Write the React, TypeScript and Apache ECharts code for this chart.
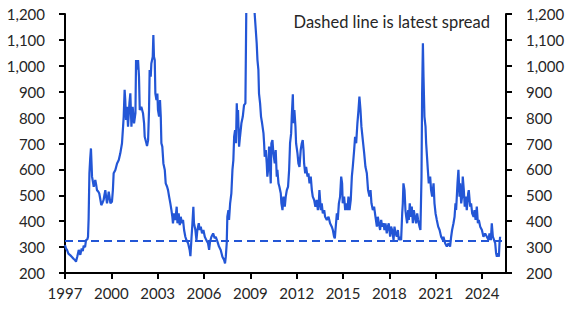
import React, { useEffect, useRef } from "react";
import * as echarts from "echarts";

// US high-yield spread (bp): [decimal year, spread]
const spreadSeries: [number, number][] = [
  [1997.00, 308], [1997.06, 295], [1997.13, 289], [1997.22, 275], [1997.35, 268], [1997.45, 262], [1997.55, 255], [1997.65, 250], [1997.71, 244], [1997.80, 265], [1997.89, 289], [1997.99, 270],
  [1998.08, 295], [1998.15, 285], [1998.21, 305], [1998.30, 300], [1998.36, 327], [1998.45, 330], [1998.49, 340], [1998.53, 411], [1998.58, 585], [1998.63, 640], [1998.68, 681], [1998.72, 620], [1998.75, 572], [1998.80, 555], [1998.86, 533], [1998.96, 559],
  [1999.02, 540], [1999.07, 520], [1999.15, 515], [1999.22, 507], [1999.30, 480], [1999.35, 462], [1999.42, 470], [1999.50, 482], [1999.55, 500], [1999.61, 520], [1999.66, 495], [1999.72, 469], [1999.78, 490], [1999.83, 514], [1999.88, 495], [1999.94, 469],
  [2000.04, 475], [2000.10, 520], [2000.15, 585], [2000.26, 598], [2000.37, 623], [2000.48, 636], [2000.58, 662], [2000.69, 701], [2000.76, 765], [2000.80, 804], [2000.86, 907], [2000.90, 870], [2000.95, 791],
  [2001.01, 842], [2001.08, 765], [2001.17, 855], [2001.23, 894], [2001.30, 765], [2001.38, 842], [2001.47, 778], [2001.56, 817], [2001.60, 1022], [2001.66, 985], [2001.69, 1009], [2001.73, 1022], [2001.79, 958], [2001.84, 829], [2001.94, 842],
  [2002.05, 817], [2002.12, 778], [2002.16, 726], [2002.27, 701], [2002.31, 690], [2002.38, 713], [2002.44, 829], [2002.48, 984], [2002.55, 958], [2002.59, 1009], [2002.68, 1035], [2002.72, 1119], [2002.76, 1035], [2002.81, 1022], [2002.85, 893], [2002.92, 868], [2002.98, 893],
  [2003.02, 829], [2003.09, 804], [2003.15, 868], [2003.20, 804], [2003.24, 701], [2003.30, 688], [2003.37, 623], [2003.46, 598], [2003.52, 546], [2003.61, 533], [2003.67, 520], [2003.74, 495], [2003.82, 469], [2003.89, 443], [2003.95, 417], [2003.99, 392],
  [2004.06, 430], [2004.15, 405], [2004.23, 456], [2004.28, 392], [2004.36, 430], [2004.43, 385], [2004.49, 417], [2004.58, 392], [2004.64, 405], [2004.71, 366], [2004.79, 340], [2004.86, 327], [2004.97, 315],
  [2005.07, 289], [2005.12, 265], [2005.18, 327], [2005.25, 392], [2005.31, 456], [2005.35, 392], [2005.44, 366], [2005.51, 327], [2005.57, 366], [2005.66, 392], [2005.72, 366], [2005.79, 379], [2005.87, 353], [2005.96, 366],
  [2006.05, 340], [2006.15, 327], [2006.26, 315], [2006.33, 289], [2006.39, 321], [2006.48, 340], [2006.59, 353], [2006.69, 334], [2006.76, 340], [2006.87, 321], [2006.97, 302],
  [2007.08, 289], [2007.19, 263], [2007.30, 250], [2007.36, 237], [2007.41, 263], [2007.47, 315], [2007.51, 417], [2007.58, 443], [2007.62, 405], [2007.69, 469], [2007.77, 507], [2007.84, 598], [2007.90, 636], [2007.95, 726],
  [2008.01, 752], [2008.07, 701], [2008.12, 855], [2008.16, 791], [2008.20, 829], [2008.27, 688], [2008.33, 726], [2008.42, 778], [2008.51, 804], [2008.59, 848], [2008.68, 855], [2008.75, 1300], [2008.82, 1700], [2008.92, 1950],
  [2009.00, 1800], [2009.10, 1650], [2009.20, 1400], [2009.28, 1200], [2009.35, 1139], [2009.41, 1087], [2009.46, 1022], [2009.52, 984], [2009.56, 893], [2009.63, 855], [2009.69, 804], [2009.76, 778], [2009.85, 739], [2009.89, 701], [2009.93, 649],
  [2010.00, 675], [2010.06, 623], [2010.10, 572], [2010.17, 611], [2010.21, 688], [2010.28, 598], [2010.32, 546], [2010.36, 701], [2010.43, 713], [2010.49, 662], [2010.58, 623], [2010.64, 675], [2010.71, 572], [2010.75, 598], [2010.82, 546], [2010.88, 533], [2010.97, 507],
  [2011.01, 469], [2011.08, 443], [2011.14, 495], [2011.23, 456], [2011.29, 495], [2011.36, 520], [2011.44, 533], [2011.51, 598], [2011.57, 701], [2011.64, 739], [2011.68, 804], [2011.75, 890], [2011.79, 778], [2011.85, 829], [2011.92, 765], [2011.96, 701],
  [2012.05, 662], [2012.11, 623], [2012.18, 610], [2012.26, 675], [2012.33, 701], [2012.39, 713], [2012.44, 675], [2012.48, 623], [2012.55, 585], [2012.61, 610], [2012.70, 572], [2012.76, 585], [2012.83, 546], [2012.91, 572], [2012.98, 520],
  [2013.04, 495], [2013.13, 482], [2013.21, 456], [2013.30, 482], [2013.37, 443], [2013.43, 469], [2013.47, 520], [2013.56, 443], [2013.62, 469], [2013.69, 430], [2013.78, 443], [2013.84, 417], [2013.95, 405],
  [2014.06, 417], [2014.16, 392], [2014.27, 379], [2014.34, 366], [2014.42, 340], [2014.47, 334], [2014.51, 366], [2014.60, 430], [2014.66, 405], [2014.73, 469], [2014.81, 495], [2014.88, 572], [2014.94, 546], [2014.98, 469],
  [2015.07, 495], [2015.14, 443], [2015.20, 469], [2015.29, 443], [2015.35, 495], [2015.42, 443], [2015.50, 482], [2015.57, 572], [2015.63, 610], [2015.72, 675], [2015.78, 726], [2015.85, 701], [2015.93, 778],
  [2016.00, 829], [2016.06, 881], [2016.13, 829], [2016.19, 765], [2016.28, 713], [2016.37, 662], [2016.45, 610], [2016.54, 585], [2016.62, 520], [2016.71, 495], [2016.78, 520], [2016.84, 469], [2016.93, 443],
  [2017.01, 456], [2017.10, 417], [2017.19, 379], [2017.25, 417], [2017.32, 392], [2017.40, 366], [2017.47, 405], [2017.53, 379], [2017.62, 392], [2017.68, 366], [2017.75, 392], [2017.83, 353], [2017.90, 379], [2017.96, 392],
  [2018.05, 340], [2018.11, 379], [2018.18, 366], [2018.27, 327], [2018.33, 379], [2018.40, 353], [2018.48, 340], [2018.55, 366], [2018.61, 327], [2018.70, 340], [2018.76, 327], [2018.83, 430], [2018.87, 469], [2018.91, 546], [2018.98, 520],
  [2019.04, 443], [2019.09, 417], [2019.15, 392], [2019.22, 443], [2019.26, 405], [2019.32, 469], [2019.39, 417], [2019.45, 456], [2019.52, 392], [2019.58, 443], [2019.65, 417], [2019.73, 392], [2019.80, 430], [2019.86, 405], [2019.95, 379],
  [2020.01, 366], [2020.08, 572], [2020.12, 894], [2020.17, 1087], [2020.21, 958], [2020.27, 804], [2020.34, 765], [2020.38, 701], [2020.45, 636], [2020.49, 598], [2020.55, 546], [2020.64, 572], [2020.70, 520], [2020.77, 495], [2020.86, 546], [2020.92, 469], [2020.99, 430],
  [2021.07, 405], [2021.16, 379], [2021.25, 366], [2021.35, 340], [2021.46, 327], [2021.50, 340], [2021.61, 315], [2021.72, 302], [2021.83, 315], [2021.93, 302],
  [2022.00, 340], [2022.06, 366], [2022.15, 392], [2022.22, 417], [2022.28, 469], [2022.32, 443], [2022.41, 546], [2022.47, 598], [2022.54, 495], [2022.58, 546], [2022.65, 469], [2022.71, 495], [2022.75, 572], [2022.82, 520], [2022.88, 456], [2022.95, 495],
  [2023.01, 443], [2023.10, 507], [2023.14, 520], [2023.23, 456], [2023.29, 469], [2023.36, 430], [2023.45, 417], [2023.51, 443], [2023.58, 405], [2023.66, 456], [2023.73, 392], [2023.79, 405], [2023.88, 379], [2023.99, 366],
  [2024.09, 340], [2024.20, 353], [2024.31, 340], [2024.42, 327], [2024.48, 353], [2024.57, 327], [2024.63, 392], [2024.70, 340], [2024.78, 327], [2024.85, 315], [2024.91, 276], [2024.96, 263],
  [2025.02, 276], [2025.09, 263], [2025.13, 315], [2025.17, 340],
];

const latestSpread = 325;
const xTickYears = [1997, 2000, 2003, 2006, 2009, 2012, 2015, 2018, 2021, 2024];
const noteText = "Dashed line is latest spread";

const LINE_COLOR = "#2356d6";
const FONT = "Lato";
const TEXT_COLOR = "#262626";

export default function App() {
  const ref = useRef<HTMLDivElement>(null);
  useEffect(() => {
    document.body.style.margin = "0";
    const chart = echarts.init(ref.current!, null, { renderer: "svg" });
    const yLabel = {
      fontSize: 15,
      fontFamily: FONT,
      color: TEXT_COLOR,
      margin: 20,
      formatter: (v: number) => v.toLocaleString("en-US"),
    };
    const yAxisBase = {
      type: "value" as const,
      min: 200,
      max: 1200,
      interval: 100,
      splitLine: { show: false },
      axisLine: { show: true, lineStyle: { color: "#000", width: 2 } },
      axisTick: { show: true, length: 6, lineStyle: { color: "#000", width: 2 } },
      axisLabel: yLabel,
    };
    chart.setOption({
      animation: false,
      grid: { left: 65, right: 66, top: 14, bottom: 44, containLabel: false },
      xAxis: {
        type: "value",
        min: 1997,
        max: 2025.55,
        splitLine: { show: false },
        axisLine: { onZero: false, lineStyle: { color: "#000", width: 2 } },
        axisTick: { show: true, length: 6, customValues: xTickYears, lineStyle: { color: "#000", width: 2 } },
        axisLabel: {
          customValues: xTickYears,
          fontSize: 15,
          fontFamily: FONT,
          color: TEXT_COLOR,
          margin: 12,
          formatter: (v: number) => String(v),
        },
      },
      yAxis: [
        { ...yAxisBase, position: "left" },
        { ...yAxisBase, position: "right" },
      ],
      graphic: [
        {
          type: "text",
          right: 82,
          top: 13,
          style: { text: noteText, fontSize: 16.5, fontFamily: FONT, fill: TEXT_COLOR },
        },
      ],
      series: [
        {
          type: "line",
          data: spreadSeries,
          showSymbol: false,
          clip: true,
          lineStyle: { color: LINE_COLOR, width: 2.2 },
          itemStyle: { color: LINE_COLOR },
          markLine: {
            silent: true,
            symbol: "none",
            label: { show: false },
            lineStyle: { color: LINE_COLOR, width: 2, type: [8, 5] },
            data: [{ yAxis: latestSpread }],
          },
        },
      ],
    });
    return () => chart.dispose();
  }, []);
  return <div ref={ref} style={{ width: 572, height: 317 }} />;
}
